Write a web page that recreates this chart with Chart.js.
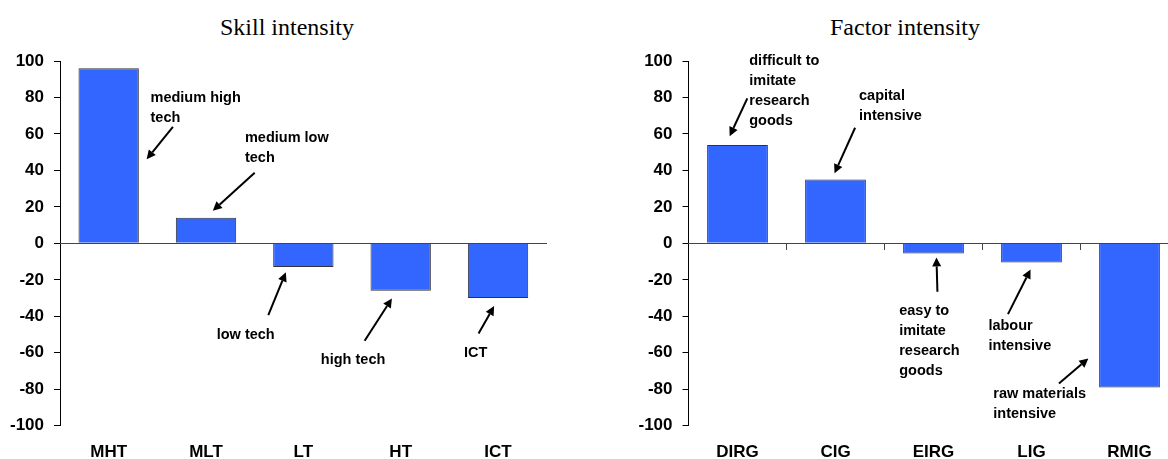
<!DOCTYPE html>
<html>
<head>
<meta charset="utf-8">
<script src="https://cdn.jsdelivr.net/npm/chart.js@4"></script>
<style>
  html, body { margin: 0; padding: 0; background: #fff; overflow: hidden; }
  body { width: 1168px; height: 459px; position: relative; }
  .title { position: absolute; top: 15px; width: 300px; text-align: center; font: 24px/24px "Liberation Serif", "Times New Roman", serif; color: #000; }
  canvas { position: absolute; top: 0; }
</style>
</head>
<body>
<div class="title" style="left:137px">Skill intensity</div>
<div class="title" style="left:755px">Factor intensity</div>
<canvas id="skillChart" width="584" height="459" style="left:0"></canvas>
<canvas id="factorChart" width="600" height="459" style="left:584px"></canvas>
<script>
const skillLabels = ["MHT", "MLT", "LT", "HT", "ICT"];
const skillValues = [96, 14, -13, -26, -30];
const factorLabels = ["DIRG", "CIG", "EIRG", "LIG", "RMIG"];
const factorValues = [54, 35, -5.5, -10.5, -79];
const valueTicks = [-100, -80, -60, -40, -20, 0, 20, 40, 60, 80, 100];

// callouts, placed in category index / value units
const skillNotes = [
  { lines: ["medium high", "tech"], at: [0.43, 79.5], from: [0.66, 63.9], to: [0.39, 46.1] },
  { lines: ["medium low", "tech"], at: [1.4, 57.9], from: [1.5, 38.7], to: [1.07, 17.9] },
  { lines: ["low tech"], at: [1.11, -50.3], from: [1.64, -39.3], to: [1.82, -15.9] },
  { lines: ["high tech"], at: [2.18, -64], from: [2.63, -53.4], to: [2.91, -30.2] },
  { lines: ["ICT"], at: [3.65, -60], from: [3.8, -49.4], to: [3.96, -34.4] },
];
const factorNotes = [
  { lines: ["difficult to", "imitate", "research", "goods"], at: [0.12, 100.1], from: [0.1, 79.5], to: [-0.08, 58.8] },
  { lines: ["capital", "intensive"], at: [1.24, 80.9], from: [1.2, 63.4], to: [0.99, 38.4] },
  { lines: ["easy to", "imitate", "research", "goods"], at: [1.65, -37.1], from: [2.04, -26.5], to: [2.03, -7.7] },
  { lines: ["labour", "intensive"], at: [2.56, -45.4], from: [2.76, -38.8], to: [2.99, -14.3] },
  { lines: ["raw materials", "intensive"], at: [2.61, -82.6], from: [3.28, -76.8], to: [3.58, -63.1] },
];

const sans = "'Liberation Sans', Arial, sans-serif";

function drawArrow(ctx, x1, y1, x2, y2) {
  const a = Math.atan2(y2 - y1, x2 - x1);
  const head = 9, half = 4.5;
  const bx = x2 - head * Math.cos(a), by = y2 - head * Math.sin(a);
  ctx.lineWidth = 2;
  ctx.beginPath();
  ctx.moveTo(x1, y1);
  ctx.lineTo(bx, by);
  ctx.stroke();
  ctx.beginPath();
  ctx.moveTo(x2, y2);
  ctx.lineTo(bx + half * Math.sin(a), by - half * Math.cos(a));
  ctx.lineTo(bx - half * Math.sin(a), by + half * Math.cos(a));
  ctx.closePath();
  ctx.fill();
}

function makeNotes(notes) {
  return {
    id: "notes",
    afterDatasetsDraw(chart) {
      const { ctx, scales: { x, y } } = chart;
      ctx.save();
      ctx.font = "bold 14.5px " + sans;
      ctx.fillStyle = "#000";
      ctx.strokeStyle = "#000";
      ctx.textAlign = "left";
      ctx.textBaseline = "middle";
      notes.forEach((n) => {
        const tx = x.getPixelForValue(n.at[0]);
        const ty = y.getPixelForValue(n.at[1]);
        n.lines.forEach((s, k) => ctx.fillText(s, tx, ty + k * 20));
        drawArrow(ctx,
          x.getPixelForValue(n.from[0]), y.getPixelForValue(n.from[1]),
          x.getPixelForValue(n.to[0]), y.getPixelForValue(n.to[1]));
      });
      ctx.restore();
    },
  };
}

function barChart(id, labels, values, notes, pad, axisWidth, tickMarks) {
  return new Chart(id, {
    type: "bar",
    data: {
      labels: labels,
      datasets: [
        {
          data: values,
          backgroundColor: "#3366FF",
          borderColor: "#333",
          borderWidth: 1,
          barPercentage: 0.62,
          categoryPercentage: 1,
        },
      ],
    },
    options: {
      responsive: false,
      animation: false,
      devicePixelRatio: 1,
      layout: { padding: pad },
      plugins: { legend: { display: false }, tooltip: { enabled: false } },
      scales: {
        y: {
          min: -100,
          max: 100,
          afterBuildTicks: (s) => { s.ticks = valueTicks.map((v) => ({ value: v })); },
          afterFit: (s) => { s.width = axisWidth; },
          ticks: { font: { family: sans, size: 17, weight: "bold" }, color: "#000", padding: 10 },
          grid: { drawOnChartArea: false, tickLength: 6, color: "#000" },
          border: { color: "#000" },
        },
        x: {
          position: { y: 0 },
          offset: true,
          ticks: { display: false },
          grid: { drawOnChartArea: false, drawTicks: tickMarks, tickLength: 6, color: "#444", offset: true },
          border: { color: "#444" },
        },
        x2: {
          type: "category",
          labels: labels,
          position: "bottom",
          offset: true,
          grid: { display: false, drawTicks: false },
          border: { display: false },
          ticks: { font: { family: sans, size: 17, weight: "bold" }, color: "#000", padding: 16 },
          afterFit: (s) => { s.height = 33.3; },
        },
      },
    },
    plugins: [makeNotes(notes)],
  });
}

barChart("skillChart", skillLabels, skillValues, skillNotes,
  { top: 61, left: 0, right: 37.3, bottom: 0 }, 60, false);
barChart("factorChart", factorLabels, factorValues, factorNotes,
  { top: 61, left: 0, right: 5.5, bottom: 0 }, 104.5, true);
</script>
</body>
</html>
